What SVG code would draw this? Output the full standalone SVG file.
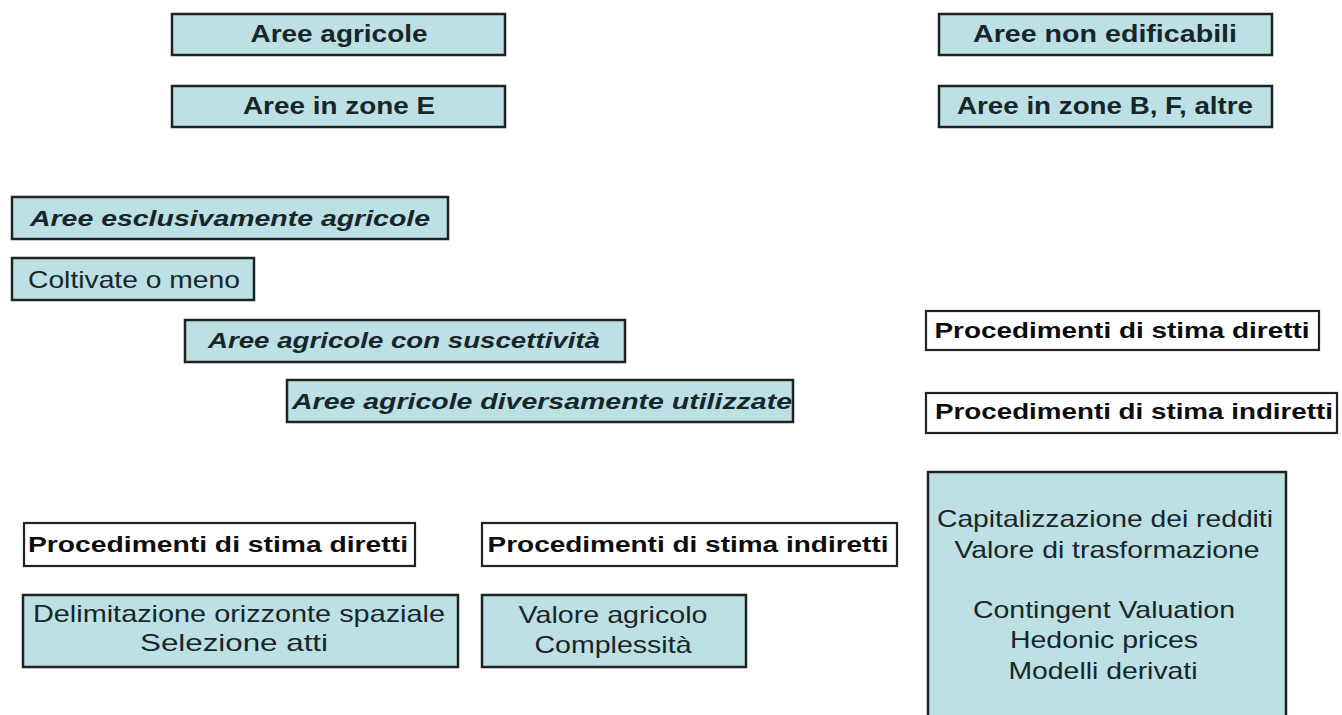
<svg xmlns="http://www.w3.org/2000/svg" width="1342" height="715" viewBox="0 0 1342 715">
<style>
.bg{fill:#ffffff}
.blue{fill:#bde0e4;stroke:#1e2426;stroke-width:2.5}
.white{fill:#ffffff;stroke:#1e2426;stroke-width:2.2}
text{font-family:"Liberation Sans",Arial,sans-serif;fill:#17262a;text-anchor:middle}
.b{font-weight:bold;font-size:23px}
.bw{font-weight:bold;font-size:22px;fill:#0d0d0d}
.bi{font-weight:bold;font-style:italic;font-size:22px}
.r{font-size:24px}
</style>
<rect class="bg" x="0" y="0" width="1342" height="715"/>
<g id="connectors"></g>
<g id="n-aree-agricole"><rect class="blue" x="172" y="14" width="333" height="41"/><text class="b" x="339" y="42" textLength="177" lengthAdjust="spacingAndGlyphs">Aree agricole</text></g>
<g id="n-zone-e"><rect class="blue" x="172" y="86" width="333" height="41"/><text class="b" x="339" y="114" textLength="192" lengthAdjust="spacingAndGlyphs">Aree in zone E</text></g>
<g id="n-non-edificabili"><rect class="blue" x="939" y="14" width="333" height="41"/><text class="b" x="1105" y="42" textLength="264" lengthAdjust="spacingAndGlyphs">Aree non edificabili</text></g>
<g id="n-zone-bf"><rect class="blue" x="939" y="86" width="333" height="41"/><text class="b" x="1105" y="114" textLength="296" lengthAdjust="spacingAndGlyphs">Aree in zone B, F, altre</text></g>
<g id="n-esclusivamente"><rect class="blue" x="12" y="197" width="436" height="42"/><text class="bi" x="230" y="226" textLength="400" lengthAdjust="spacingAndGlyphs">Aree esclusivamente agricole</text></g>
<g id="n-coltivate"><rect class="blue" x="12" y="258" width="242" height="42"/><text class="r" x="134" y="288" textLength="212" lengthAdjust="spacingAndGlyphs">Coltivate o meno</text></g>
<g id="n-suscettivita"><rect class="blue" x="185" y="320" width="440" height="42"/><text class="bi" x="404" y="348" textLength="392" lengthAdjust="spacingAndGlyphs">Aree agricole con suscettività</text></g>
<g id="n-diversamente"><rect class="blue" x="287" y="380" width="506" height="42"/><text class="bi" x="542" y="409" textLength="500" lengthAdjust="spacingAndGlyphs">Aree agricole diversamente utilizzate</text></g>
<g id="n-r-diretti"><rect class="white" x="926" y="311" width="393" height="39"/><text class="bw" x="1122" y="338" textLength="375" lengthAdjust="spacingAndGlyphs">Procedimenti di stima diretti</text></g>
<g id="n-r-indiretti"><rect class="white" x="926" y="393" width="411" height="40"/><text class="bw" x="1134" y="419" textLength="398" lengthAdjust="spacingAndGlyphs">Procedimenti di stima indiretti</text></g>
<g id="n-r-metodi"><rect class="blue" x="928" y="472" width="358" height="260"/>
<text class="r" x="1105" y="527" textLength="336" lengthAdjust="spacingAndGlyphs">Capitalizzazione dei redditi</text>
<text class="r" x="1107" y="558" textLength="305" lengthAdjust="spacingAndGlyphs">Valore di trasformazione</text>
<text class="r" x="1104" y="618" textLength="262" lengthAdjust="spacingAndGlyphs">Contingent Valuation</text>
<text class="r" x="1104" y="648" textLength="188" lengthAdjust="spacingAndGlyphs">Hedonic prices</text>
<text class="r" x="1103" y="679" textLength="189" lengthAdjust="spacingAndGlyphs">Modelli derivati</text></g>
<g id="n-l-diretti"><rect class="white" x="24" y="523" width="391" height="43"/><text class="bw" x="218" y="552" textLength="380" lengthAdjust="spacingAndGlyphs">Procedimenti di stima diretti</text></g>
<g id="n-l-indiretti"><rect class="white" x="482" y="523" width="415" height="43"/><text class="bw" x="688" y="552" textLength="401" lengthAdjust="spacingAndGlyphs">Procedimenti di stima indiretti</text></g>
<g id="n-delimitazione"><rect class="blue" x="23" y="595" width="435" height="72"/>
<text class="r" x="239" y="622" textLength="412" lengthAdjust="spacingAndGlyphs">Delimitazione orizzonte spaziale</text>
<text class="r" x="234" y="651" textLength="188" lengthAdjust="spacingAndGlyphs">Selezione atti</text></g>
<g id="n-valore-agricolo"><rect class="blue" x="482" y="595" width="264" height="72"/>
<text class="r" x="613" y="623" textLength="189" lengthAdjust="spacingAndGlyphs">Valore agricolo</text>
<text class="r" x="613" y="653" textLength="157" lengthAdjust="spacingAndGlyphs">Complessità</text></g>
</svg>
